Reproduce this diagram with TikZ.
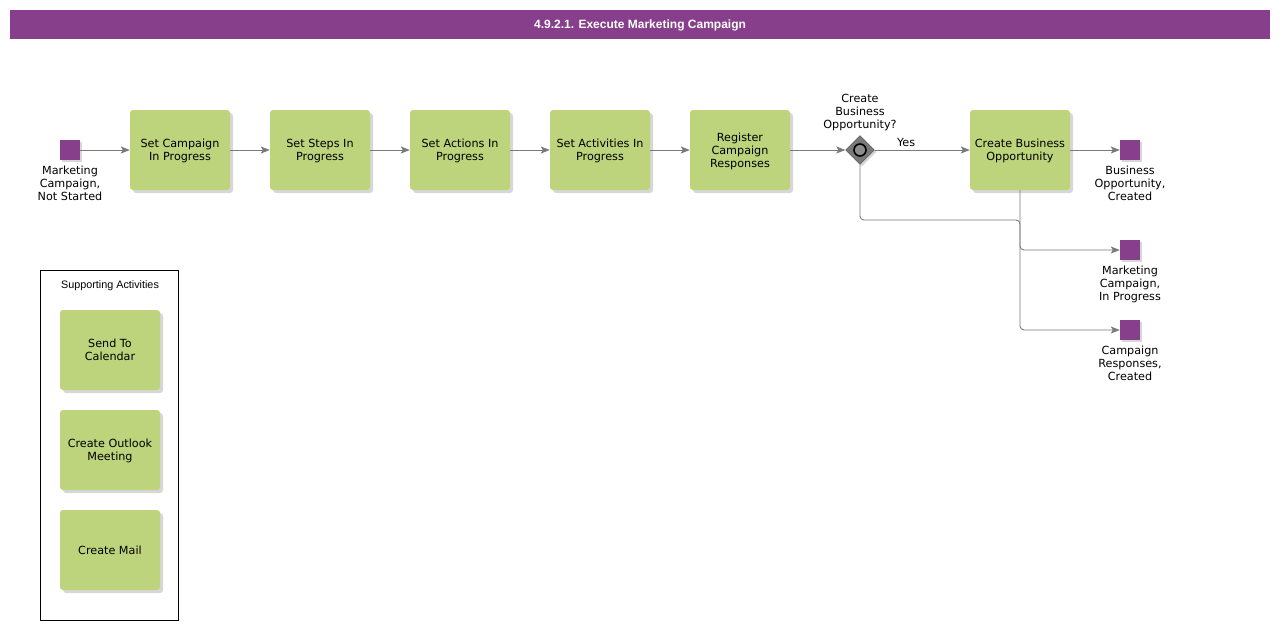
\documentclass[tikz,border=0pt]{standalone}
\usepackage{fontspec}
\setmainfont{DejaVu Sans}
\newfontfamily\arialfont{Liberation Sans}
\usepackage{tikz}
\usetikzlibrary{arrows.meta,shapes.geometric,shadows}

\definecolor{bpmnpurple}{HTML}{873F8C}
\definecolor{bpmngreen}{HTML}{BDD37C}
\definecolor{flowgray}{HTML}{7A7A7A}

\begin{document}
\begin{tikzpicture}[
  x=1pt, y=-1pt,
  font=\fontsize{11.2}{13}\selectfont,
  task/.style={rounded corners=3pt, fill=bpmngreen, minimum width=100pt,
    minimum height=80pt, align=center, inner sep=1pt, text depth=0pt,
    drop shadow={shadow xshift=3pt, shadow yshift=-3pt, fill=gray!45, opacity=0.7}},
  event/.style={fill=bpmnpurple, minimum size=20pt, inner sep=0pt,
    drop shadow={shadow xshift=2pt, shadow yshift=-2pt, fill=gray!45, opacity=0.7}},
  evlabel/.style={anchor=north, align=center, inner sep=0pt},
  gate/.style={diamond, aspect=1, fill=gray!95!black, draw=black!70, line width=0.4pt,
    minimum width=29pt, minimum height=29pt, inner sep=0pt,
    drop shadow={shadow xshift=2pt, shadow yshift=-2pt, fill=gray!45, opacity=0.7}},
  flow/.style={-{Stealth[length=9pt, width=7pt, inset=2pt]}, draw=flowgray, line width=0.9pt, rounded corners=4pt}
]
\useasboundingbox (0,0) rectangle (1280,630);

% title
\node[fill=bpmnpurple, minimum width=1260pt, minimum height=29pt, inner sep=0pt,
  text=white, text depth=0pt, font=\arialfont\bfseries\fontsize{12}{14}\selectfont] (title) at (640,24.5)
  {4.9.2.1. Execute Marketing Campaign};

% main flow
\node[event] (start) at (70,150) {};
\node[evlabel] (startlbl) at (70,165.5) {Marketing\\Campaign,\\Not Started};
\node[task] (setcamp) at (180,150) {Set Campaign\\In Progress};
\node[task] (setsteps) at (320,150) {Set Steps In\\Progress};
\node[task] (setact) at (460,150) {Set Actions In\\Progress};
\node[task] (setactiv) at (600,150) {Set Activities In\\Progress};
\node[task] (register) at (740,150) {Register\\Campaign\\Responses};
\node[gate] (gw) at (860,150) {};
\draw[black, line width=1.6pt, fill=gray!90] (gw.center) circle (6pt);
\node[anchor=south, align=center, inner sep=0pt] (gwlbl) at (860,131.5) {Create\\Business\\Opportunity?};
\node[task] (createopp) at (1020,150) {Create Business\\Opportunity};

\node[event] (endopp) at (1130,150) {};
\node[evlabel] (endopplbl) at (1130,165.5) {Business\\Opportunity,\\Created};
\node[event] (endprog) at (1130,250) {};
\node[evlabel] (endproglbl) at (1130,265.5) {Marketing\\Campaign,\\In Progress};
\node[event] (endresp) at (1130,330) {};
\node[evlabel] (endresplbl) at (1130,345.5) {Campaign\\Responses,\\Created};

\coordinate (join) at (1020,220);

\draw[flow] (start) -- (setcamp);
\draw[flow] (setcamp) -- (setsteps);
\draw[flow] (setsteps) -- (setact);
\draw[flow] (setact) -- (setactiv);
\draw[flow] (setactiv) -- (register);
\draw[flow] (register) -- (gw);
\draw[flow] (gw) -- node[above, inner sep=2.5pt, pos=0.33] {Yes} (createopp);
\draw[flow] (createopp) -- (endopp);
\draw[flow] (gw.south) |- (join) |- (endprog);
\draw[flow] (createopp.south) |- (endresp);

% supporting activities
\node[draw=black, line width=0.6pt, minimum width=138pt, minimum height=350pt, inner sep=0pt] (support) at (109,445) {};
\node[font=\arialfont\fontsize{10.8}{12}\selectfont] (supportlbl) at (110,286) {Supporting Activities};
\node[task] (calendar) at (110,350) {Send To\\Calendar};
\node[task] (outlook) at (110,450) {Create Outlook\\Meeting};
\node[task] (mail) at (110,550) {Create Mail};
\end{tikzpicture}
\end{document}
